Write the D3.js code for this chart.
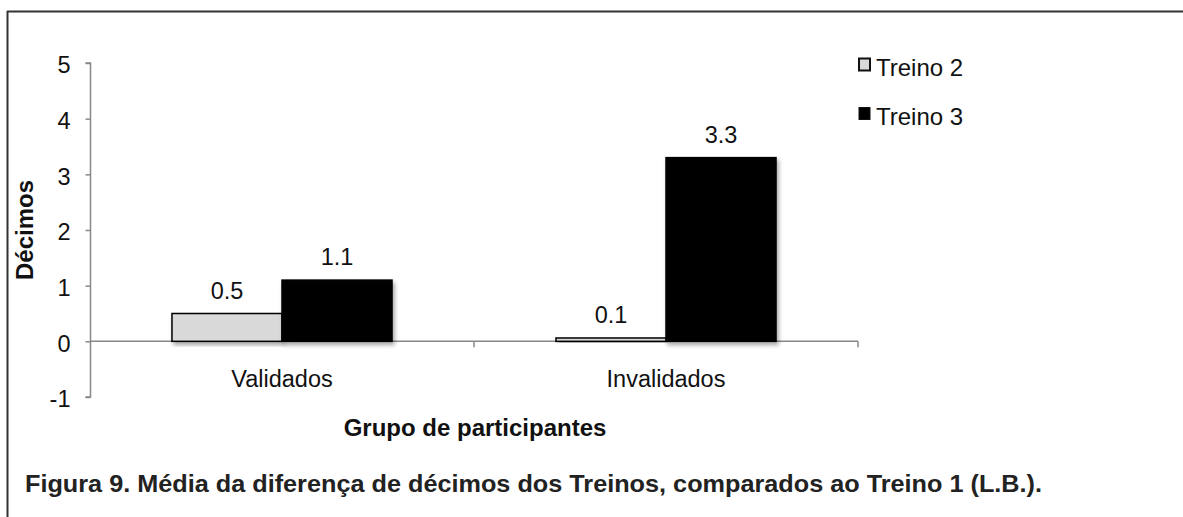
<!DOCTYPE html>
<html><head><meta charset="utf-8">
<script src="https://cdn.jsdelivr.net/npm/d3@7"></script>
<style>
body{margin:0;background:#fff;}
svg{display:block;font-family:"Liberation Sans",Arial,Helvetica,sans-serif;}
</style></head>
<body><svg id="c" width="1183" height="517"></svg>
<script>
const categories = ["Validados", "Invalidados"];
const seriesNames = ["Treino 2", "Treino 3"];
const treino2 = [0.5, 0.06];
const treino3 = [1.1, 3.3];
const yTicks = [-1, 0, 1, 2, 3, 4, 5];
const seriesColors = ["#d9d9d9", "#000000"];

const svg = d3.select("#c");
const W = 1183, H = 517;
const FS = 23.5;

// frame
svg.append("line").attr("x1",7).attr("x2",W).attr("y1",11.5).attr("y2",11.5).attr("stroke","#333").attr("stroke-width",2);
svg.append("line").attr("x1",7.5).attr("x2",7.5).attr("y1",11).attr("y2",H).attr("stroke","#333").attr("stroke-width",2);

const defs = svg.append("defs");
const f = defs.append("filter").attr("id","sh").attr("x","-10%").attr("y","-10%").attr("width","130%").attr("height","130%");
f.append("feDropShadow").attr("dx",2).attr("dy",3).attr("stdDeviation",2).attr("flood-color","#000").attr("flood-opacity",0.35);

const plotL = 90, plotR = 858;
const y = d3.scaleLinear().domain([-1,5]).range([397,63]);
const x0 = d3.scaleBand().domain(categories).range([plotL, plotR]).padding(0);
const x1 = d3.scaleBand().domain(seriesNames).range([0, x0.bandwidth()]).paddingOuter(0.745).paddingInner(0);

// y axis
const yAxis = d3.axisLeft(y).tickValues(yTicks).tickSize(5).tickPadding(15).tickFormat(d => String(d));
const gy = svg.append("g").attr("transform",`translate(${plotL+0.5},0)`).call(yAxis);
gy.select(".domain").attr("stroke","#888").attr("stroke-width",1.5).attr("d",`M-5,${y(5)}H0V${y(-1)}H-5`);
gy.selectAll(".tick line").attr("stroke","#888").attr("stroke-width",1.5);
gy.selectAll(".tick text").attr("font-size",FS).attr("fill","#111").attr("dy","0.42em")
  .attr("font-family","Liberation Sans, Arial, sans-serif");

// x axis at zero
const gx = svg.append("g").attr("transform",`translate(0,${y(0)})`);
gx.append("line").attr("x1",plotL).attr("x2",plotR).attr("stroke","#888").attr("stroke-width",1.5);
const bounds = [plotL + x0.bandwidth(), plotR];
gx.selectAll(".bt").data(bounds).join("line").attr("x1",d=>d).attr("x2",d=>d).attr("y1",0).attr("y2",6).attr("stroke","#888").attr("stroke-width",1.5);
gx.selectAll(".cl").data(categories).join("text")
  .attr("x",d=>x0(d)+x0.bandwidth()/2).attr("y",45.5).attr("text-anchor","middle")
  .attr("font-size",FS).attr("fill","#111").text(d=>d);

// bars
const data = categories.map((c,i)=>({cat:c, vals:[treino2[i], treino3[i]]}));
const groups = svg.selectAll(".grp").data(data).join("g").attr("transform",d=>`translate(${x0(d.cat)},0)`);
groups.selectAll("rect").data(d=>d.vals.map((v,j)=>({s:seriesNames[j],v,j}))).join("rect")
  .attr("x",d=>x1(d.s)).attr("width",x1.bandwidth())
  .attr("y",d=>y(Math.max(0,d.v))).attr("height",d=>Math.abs(y(d.v)-y(0)))
  .attr("fill",d=>seriesColors[d.j]).attr("stroke","#000").attr("stroke-width",1.5)
  .attr("filter","url(#sh)");
groups.selectAll(".vl").data(d=>d.vals.map((v,j)=>({s:seriesNames[j],v,j}))).join("text")
  .attr("x",d=>x1(d.s)+x1.bandwidth()/2).attr("y",d=>y(Math.max(0,d.v))-15)
  .attr("text-anchor","middle").attr("font-size",FS).attr("fill","#111")
  .text(d=>d3.format(".1f")(d.v));

// axis titles
svg.append("text").attr("transform",`translate(33,230) rotate(-90)`).attr("text-anchor","middle")
  .attr("font-size",24).attr("font-weight","bold").attr("fill","#111").text("Décimos");
svg.append("text").attr("x",(plotL+plotR)/2+1).attr("y",436).attr("text-anchor","middle")
  .attr("font-size",24).attr("font-weight","bold").attr("fill","#111").text("Grupo de participantes");

// legend
const lg = svg.append("g");
seriesNames.forEach((s,i)=>{
  const ly = 58 + i*49;
  lg.append("rect").attr("x",859).attr("y",ly+0.5).attr("width",11).attr("height",12)
    .attr("fill",seriesColors[i]).attr("stroke","#111").attr("stroke-width",i===0?2:1);
  lg.append("text").attr("x",876).attr("y",ly+18).attr("font-size",24).attr("fill","#111").text(s);
});

// caption
svg.append("text").attr("x",25).attr("y",492).attr("font-size",24.5).attr("font-weight","bold").attr("fill","#222")
  .attr("textLength",1017).attr("lengthAdjust","spacingAndGlyphs")
  .text("Figura 9. Média da diferença de décimos dos Treinos, comparados ao Treino 1 (L.B.).");
</script></body></html>
